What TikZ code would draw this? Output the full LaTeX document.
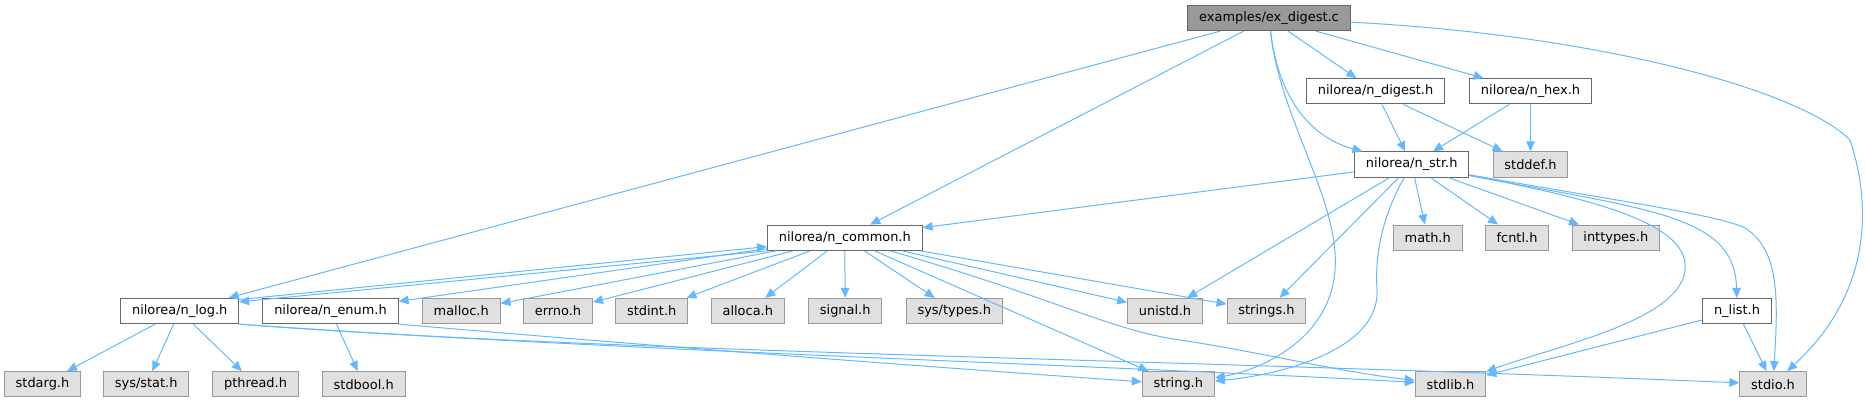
\documentclass[tikz,border=0pt]{standalone}
\usepackage{fontspec}
\setmainfont{DejaVu Sans}
\usetikzlibrary{arrows.meta}

\definecolor{edgeblue}{HTML}{63B8FF}
\definecolor{rootfill}{HTML}{999999}
\definecolor{sysfill}{HTML}{E0E0E0}
\definecolor{darkborder}{HTML}{666666}
\definecolor{lightborder}{HTML}{999999}

\tikzset{
  file/.style={draw=darkborder, fill=white, line width=0.75pt, inner xsep=8.5pt,
    minimum height=19pt, font=\fontsize{9.7}{11}\selectfont},
  sysfile/.style={file, draw=lightborder, fill=sysfill},
  rootfile/.style={file, fill=rootfill},
  edge/.style={draw=edgeblue, line width=0.75pt, -{Triangle[length=7.5pt,width=6.5pt]}},
}

\begin{document}
\begin{tikzpicture}[x=0.75pt, y=-0.75pt]
\useasboundingbox (0,0) rectangle (1865,403);
% rows of the include graph
\node[rootfile] (main) at (1269,18) {examples/ex\_digest.c};
\node[file] (digest) at (1375.5,91.3) {nilorea/n\_digest.h};
\node[file] (hex) at (1530.5,91.3) {nilorea/n\_hex.h};
\node[file] (nstr) at (1411.7,164.5) {nilorea/n\_str.h};
\node[sysfile] (stddef) at (1530.5,164.5) {stddef.h};
\node[file] (common) at (844.8,237.7) {nilorea/n\_common.h};
\node[sysfile] (mathh) at (1427.7,237.7) {math.h};
\node[sysfile] (fcntl) at (1517,237.7) {fcntl.h};
\node[sysfile] (inttypes) at (1615.8,237.7) {inttypes.h};
\node[file] (log) at (179.7,311) {nilorea/n\_log.h};
\node[file] (enumh) at (330.5,311) {nilorea/n\_enum.h};
\node[sysfile] (malloc) at (461.2,311) {malloc.h};
\node[sysfile] (errno) at (558,311) {errno.h};
\node[sysfile] (stdint) at (651.7,311) {stdint.h};
\node[sysfile] (alloca) at (747.8,311) {alloca.h};
\node[sysfile] (signal) at (845.2,311) {signal.h};
\node[sysfile] (systypes) at (954.3,311) {sys/types.h};
\node[sysfile] (unistd) at (1165,311) {unistd.h};
\node[sysfile] (strings) at (1266.5,311) {strings.h};
\node[file] (nlist) at (1737,311) {n\_list.h};
\node[sysfile] (stdarg) at (42.5,384.3) {stdarg.h};
\node[sysfile] (sysstat) at (146.2,384.3) {sys/stat.h};
\node[sysfile] (pthread) at (255.5,384.3) {pthread.h};
\node[sysfile] (stdbool) at (363.7,384.3) {stdbool.h};
\node[sysfile] (string) at (1178.3,384.3) {string.h};
\node[sysfile] (stdlib) at (1450.5,384.3) {stdlib.h};
\node[sysfile] (stdio) at (1773,384.3) {stdio.h};

% examples/ex_digest.c
\draw[edge] (main) -- (log);
\draw[edge] (main) -- (common);
\draw[edge] (main) .. controls (1280,120) and (1340,200) .. (1335,270)
  .. controls (1330,340) and (1260,370) .. (string);
\draw[edge] (main) .. controls (1280,110) and (1320,140) .. (nstr);
\draw[edge] (main) -- (digest);
\draw[edge] (main) -- (hex);
\draw[edge] (main) .. controls (1600,35) and (1800,90) .. (1850,140)
  .. controls (1870,200) and (1875,290) .. (stdio);

% nilorea/n_digest.h and nilorea/n_hex.h
\draw[edge] (digest) -- (nstr);
\draw[edge] (digest) -- (stddef);
\draw[edge] (hex) -- (nstr);
\draw[edge] (hex) -- (stddef);

% nilorea/n_str.h
\draw[edge] (nstr) -- (common);
\draw[edge] (nstr) -- (unistd);
\draw[edge] (nstr) -- (strings);
\draw[edge] (nstr) .. controls (1380,220) and (1375,260) .. (1377,290)
  .. controls (1380,350) and (1280,375) .. (string);
\draw[edge] (nstr) -- (mathh);
\draw[edge] (nstr) -- (fcntl);
\draw[edge] (nstr) -- (inttypes);
\draw[edge] (nstr) .. controls (1600,200) and (1690,225) .. (1685,270)
  .. controls (1680,320) and (1560,345) .. (stdlib);
\draw[edge] (nstr) .. controls (1650,210) and (1735,215) .. (nlist);
\draw[edge] (nstr) .. controls (1600,198) and (1720,215) .. (1745,228)
  .. controls (1780,250) and (1778,300) .. (stdio);

% nilorea/n_common.h
\draw[edge] (common.south west) -- ([yshift=-3pt]log.north east);
\draw[edge] (common) -- (enumh);
\draw[edge] (common) -- (malloc);
\draw[edge] (common) -- (errno);
\draw[edge] (common) -- (stdint);
\draw[edge] (common) -- (alloca);
\draw[edge] (common) -- (signal);
\draw[edge] (common) -- (systypes);
\draw[edge] (common) -- (unistd);
\draw[edge] (common) -- (strings);
\draw[edge] (common) -- (string);
\draw[edge] (common) .. controls (1060,300) and (1110,330) .. (1180,340)
  .. controls (1260,352) and (1340,372) .. (stdlib);

% nilorea/n_log.h, nilorea/n_enum.h, n_list.h
\draw[edge] ([yshift=-1.3pt]log.north east) -- ([yshift=3.2pt]common.south west);
\draw[edge] (log) -- (stdarg);
\draw[edge] (log) -- (sysstat);
\draw[edge] (log) -- (pthread);
\draw[edge] (log.south east) .. controls (600,350) and (1100,365) .. (stdlib);
\draw[edge] (log.south east) .. controls (600,352) and (1200,360) .. (stdio);
\draw[edge] (enumh) -- (stdbool);
\draw[edge] (enumh.south east) .. controls (700,350) and (1000,372) .. (string);
\draw[edge] (nlist) -- (stdlib);
\draw[edge] (nlist) -- (stdio);
\end{tikzpicture}
\end{document}
